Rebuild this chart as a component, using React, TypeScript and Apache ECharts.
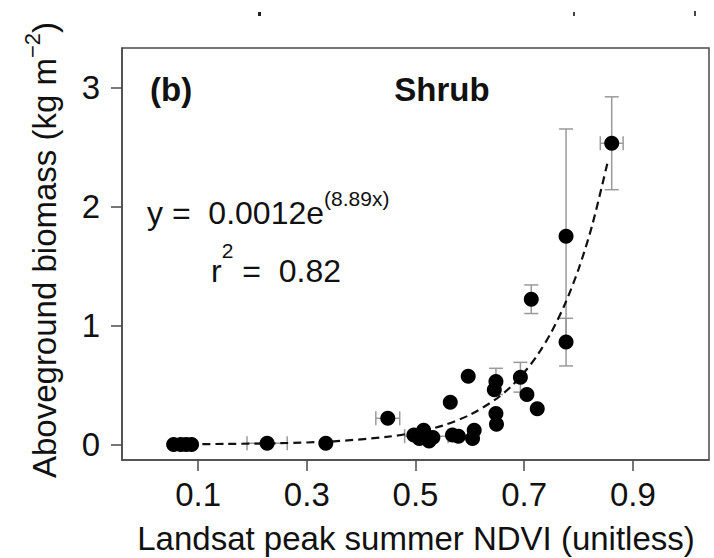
import React, { useEffect, useRef } from "react";
import * as echarts from "echarts";

// Landsat peak summer NDVI (x) and aboveground shrub biomass (y), with errors
const ndvi = [0.055, 0.068, 0.078, 0.088, 0.227, 0.335, 0.449, 0.497, 0.507, 0.515, 0.52, 0.525, 0.532, 0.564, 0.568, 0.579, 0.597, 0.605, 0.608, 0.648, 0.645, 0.648, 0.649, 0.693, 0.705, 0.713, 0.724, 0.777, 0.777, 0.861];
const biomass = [0.0, 0.0, 0.0, 0.0, 0.01, 0.01, 0.22, 0.08, 0.05, 0.12, 0.07, 0.03, 0.06, 0.354, 0.08, 0.07, 0.573, 0.05, 0.12, 0.53, 0.46, 0.26, 0.17, 0.565, 0.42, 1.22, 0.3, 1.75, 0.86, 2.53];
const ndviErr = [0, 0, 0, 0, 0.037, 0, 0.022, 0, 0, 0, 0.04, 0, 0, 0, 0, 0, 0, 0, 0, 0, 0, 0, 0, 0, 0, 0, 0, 0, 0, 0.021];
const biomassErr = [0, 0, 0, 0, 0, 0, 0, 0, 0, 0, 0, 0, 0, 0, 0, 0, 0, 0, 0, 0.11, 0, 0, 0, 0.125, 0, 0.12, 0, 0.9, 0.2, 0.39];

// fitted curve (y = 0.0012e^(8.89x))
const fitNdvi = [0.06, 0.15, 0.25, 0.35, 0.45, 0.5, 0.55, 0.6, 0.65, 0.675, 0.7, 0.725, 0.75, 0.775, 0.8, 0.825, 0.855];
const fitBiomass = [0.002, 0.005, 0.011, 0.027, 0.066, 0.102, 0.159, 0.249, 0.388, 0.484, 0.605, 0.756, 0.944, 1.18, 1.473, 1.84, 2.4];

const xTicks = [0.1, 0.3, 0.5, 0.7, 0.9];
const yTicks = [0, 1, 2, 3];

const FONT = "'Liberation Sans', Arial, Helvetica, sans-serif";
const AXIS_COLOR = "#4a4a4a";

export default function App() {
  const ref = useRef<HTMLDivElement>(null);
  useEffect(() => {
    if (!ref.current) return;
    const chart = echarts.init(ref.current, undefined, { renderer: "svg" });
    const points = ndvi.map((x, i) => [x, biomass[i]]);
    const errs = ndvi.map((x, i) => [x, biomass[i], ndviErr[i], biomassErr[i]]);
    const fit = fitNdvi.map((x, i) => [x, fitBiomass[i]]);
    const option: any = {
      animation: false,
      backgroundColor: "#ffffff",
      grid: {
        left: 122,
        right: 5,
        top: 48,
        bottom: 98,
        show: true,
        borderColor: AXIS_COLOR,
        borderWidth: 1.5,
        backgroundColor: "transparent",
        containLabel: false,
        outerBoundsMode: "none",
      },
      xAxis: {
        type: "value",
        min: -0.04,
        max: 1.04,
        axisLine: { show: true, onZero: false, lineStyle: { color: AXIS_COLOR, width: 1.5 } },
        splitLine: { show: false },
        axisTick: {
          show: true,
          inside: false,
          length: 11,
          customValues: xTicks,
          lineStyle: { color: AXIS_COLOR, width: 1.5 },
        },
        axisLabel: {
          customValues: xTicks,
          formatter: (v: number) => v.toFixed(1),
          color: "#111",
          fontSize: 33,
          fontFamily: FONT,
          margin: 18,
        },
      },
      yAxis: {
        type: "value",
        min: -0.13,
        max: 3.33,
        axisLine: { show: true, onZero: false, lineStyle: { color: AXIS_COLOR, width: 1.5 } },
        splitLine: { show: false },
        axisTick: {
          show: true,
          inside: false,
          length: 11,
          customValues: yTicks,
          lineStyle: { color: AXIS_COLOR, width: 1.5 },
        },
        axisLabel: {
          customValues: yTicks,
          formatter: (v: number) => String(Math.round(v)),
          color: "#111",
          fontSize: 33,
          fontFamily: FONT,
          margin: 22,
        },
      },
      series: [
        {
          type: "custom",
          z: 1,
          clip: false,
          encode: { x: 0, y: 1 },
          data: errs,
          renderItem: (params: any, api: any) => {
            const x = api.value(0);
            const y = api.value(1);
            const xe = api.value(2);
            const ye = api.value(3);
            const style = { stroke: "#9a9a9a", lineWidth: 1.5, fill: "none" };
            const cap = 7;
            const children: any[] = [];
            const ln = (x1: number, y1: number, x2: number, y2: number) =>
              children.push({ type: "line", shape: { x1, y1, x2, y2 }, style });
            if (ye > 0) {
              const t = api.coord([x, y + ye]);
              const b = api.coord([x, y - ye]);
              ln(t[0], t[1], b[0], b[1]);
              ln(t[0] - cap, t[1], t[0] + cap, t[1]);
              ln(b[0] - cap, b[1], b[0] + cap, b[1]);
            }
            if (xe > 0) {
              const l = api.coord([x - xe, y]);
              const r = api.coord([x + xe, y]);
              ln(l[0], l[1], r[0], r[1]);
              ln(l[0], l[1] - cap, l[0], l[1] + cap);
              ln(r[0], r[1] - cap, r[0], r[1] + cap);
            }
            return { type: "group", children };
          },
        },
        {
          type: "line",
          z: 2,
          data: fit,
          smooth: 0.3,
          showSymbol: false,
          symbol: "none",
          lineStyle: { color: "#111", width: 2.2, type: [8, 5] },
        },
        {
          type: "scatter",
          z: 3,
          data: points,
          symbol: "circle",
          symbolSize: 15,
          itemStyle: { color: "#000", opacity: 1 },
        },
      ],
      graphic: [
        {
          type: "text",
          x: 44,
          y: 250,
          rotation: Math.PI / 2,
          style: {
            text: "Aboveground biomass (kg m{sup|−2})",
            align: "center",
            verticalAlign: "middle",
            fontSize: 33,
            fontFamily: FONT,
            fill: "#111",
            lineHeight: 46,
            rich: {
              sup: { fontSize: 22, lineHeight: 22, verticalAlign: "top", fontFamily: FONT, fill: "#111" },
            },
          },
        },
        {
          type: "text",
          x: 416,
          y: 538,
          style: {
            text: "Landsat peak summer NDVI (unitless)",
            align: "center",
            verticalAlign: "middle",
            fontSize: 33,
            fontFamily: FONT,
            fill: "#111",
          },
        },
        {
          type: "text",
          x: 150,
          y: 89,
          style: {
            text: "(b)",
            align: "left",
            verticalAlign: "middle",
            fontSize: 33,
            fontWeight: "bold",
            fontFamily: FONT,
            fill: "#111",
          },
        },
        {
          type: "text",
          x: 442,
          y: 89,
          style: {
            text: "Shrub",
            align: "center",
            verticalAlign: "middle",
            fontSize: 33,
            fontWeight: "bold",
            fontFamily: FONT,
            fill: "#111",
          },
        },
        {
          type: "text",
          x: 147,
          y: 213,
          style: {
            text: "y =  0.0012e{sup|(8.89x)}",
            align: "left",
            verticalAlign: "middle",
            fontSize: 32,
            fontFamily: FONT,
            fill: "#111",
            lineHeight: 50,
            rich: {
              sup: { fontSize: 21, lineHeight: 22, verticalAlign: "top", fontFamily: FONT, fill: "#111" },
            },
          },
        },
        {
          type: "text",
          x: 211,
          y: 271,
          style: {
            text: "r{sup|2} =  0.82",
            align: "left",
            verticalAlign: "middle",
            fontSize: 32,
            fontFamily: FONT,
            fill: "#111",
            lineHeight: 62,
            rich: {
              sup: { fontSize: 21, lineHeight: 22, verticalAlign: "top", fontFamily: FONT, fill: "#111" },
            },
          },
        },
        { type: "rect", shape: { x: 258, y: 12, width: 3, height: 4 }, style: { fill: "#222" } },
        { type: "rect", shape: { x: 573, y: 12, width: 2, height: 4 }, style: { fill: "#444" } },
        { type: "rect", shape: { x: 694, y: 11, width: 2, height: 5 }, style: { fill: "#444" } },
      ],
    };
    chart.setOption(option);
    return () => chart.dispose();
  }, []);
  return (
    <div
      ref={ref}
      style={{ position: "fixed", left: 0, top: 0, width: 714, height: 558, background: "#fff" }}
    />
  );
}
